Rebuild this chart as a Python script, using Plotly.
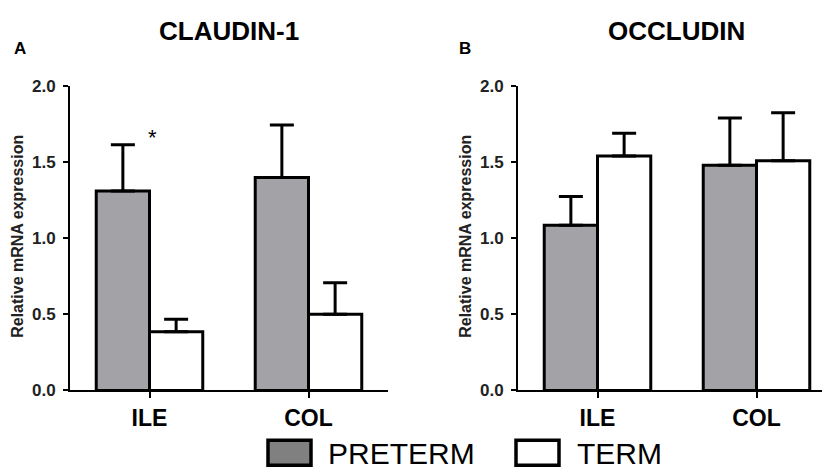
import plotly.graph_objects as go

W, H = 830, 474

categories = ["ILE", "COL"]
tick_vals = [0.0, 0.5, 1.0, 1.5, 2.0]

claudin_preterm = [1.31, 1.40]
claudin_preterm_err = [0.305, 0.345]
claudin_term = [0.385, 0.50]
claudin_term_err = [0.082, 0.208]

occludin_preterm = [1.085, 1.48]
occludin_preterm_err = [0.19, 0.31]
occludin_term = [1.54, 1.51]
occludin_term_err = [0.15, 0.315]

groups = ["PRETERM", "TERM"]

FONT = "Arial, Liberation Sans, sans-serif"
BAR_GRAY = "#a3a2a7"
LEGEND_GRAY = "#808080"


def px_x(v):
    return v / W


def px_y(v):
    return 1 - v / H


def bar_trace(vals, errs, fill, xa, ya, name):
    return go.Bar(
        x=categories,
        y=vals,
        name=name,
        marker=dict(color=fill, line=dict(color="black", width=3)),
        error_y=dict(
            type="data",
            array=errs,
            arrayminus=[0] * len(errs),
            symmetric=False,
            color="black",
            thickness=3,
            width=12,
        ),
        xaxis=xa,
        yaxis=ya,
        showlegend=False,
    )


fig = go.Figure()
fig.add_trace(bar_trace(claudin_preterm, claudin_preterm_err, BAR_GRAY, "x", "y", groups[0]))
fig.add_trace(bar_trace(claudin_term, claudin_term_err, "white", "x", "y", groups[1]))
fig.add_trace(bar_trace(occludin_preterm, occludin_preterm_err, BAR_GRAY, "x2", "y2", groups[0]))
fig.add_trace(bar_trace(occludin_term, occludin_term_err, "white", "x2", "y2", groups[1]))

y_dom = [px_y(389), px_y(72)]
xaxis_common = dict(
    showline=True, linecolor="black", linewidth=2,
    ticks="outside", ticklen=6, tickwidth=2, tickcolor="black",
    tickfont=dict(family=FONT, size=23, color="black", weight="bold"),
    range=[-0.5, 1.5], showgrid=False, zeroline=False, fixedrange=True,
)
yaxis_common = dict(
    showline=True, linecolor="black", linewidth=2,
    ticks="outside", ticklen=5, tickwidth=2, tickcolor="black",
    tickvals=tick_vals, tickformat=".1f", ticklabelstandoff=4,
    tickfont=dict(family=FONT, size=17, color="#222222", weight="bold"),
    range=[0, 2.0], showgrid=False, zeroline=False, domain=y_dom,
)

fig.update_layout(
    width=W, height=H,
    margin=dict(l=0, r=0, t=0, b=0),
    paper_bgcolor="white", plot_bgcolor="white",
    barmode="group", bargap=0.33, bargroupgap=0,
    font=dict(family=FONT, color="black"),
    xaxis=dict(domain=[px_x(62), px_x(380)], anchor="y", **xaxis_common),
    yaxis=dict(anchor="x", **yaxis_common),
    xaxis2=dict(domain=[px_x(510), px_x(828)], anchor="y2", **xaxis_common),
    yaxis2=dict(anchor="x2", **yaxis_common),
)

annotations = [
    dict(text="<b>CLAUDIN-1</b>", x=px_x(221), y=px_y(15), size=26),
    dict(text="<b>OCCLUDIN</b>", x=px_x(668), y=px_y(15), size=26),
    dict(text="<b>A</b>", x=px_x(12), y=px_y(33), size=17),
    dict(text="<b>B</b>", x=px_x(457), y=px_y(33), size=17),
    dict(text="PRETERM", x=px_x(318), y=px_y(455), size=30, xanchor="left"),
    dict(text="TERM", x=px_x(567), y=px_y(455), size=30, xanchor="left"),
]
for a in annotations:
    fig.add_annotation(
        text=a["text"], x=a["x"], y=a["y"], xref="paper", yref="paper",
        xanchor=a.get("xanchor", "center"), yanchor="middle", showarrow=False,
        font=dict(family=FONT, size=a["size"], color="black"),
    )

for cx in (10, 458):
    fig.add_annotation(
        text="<b>Relative mRNA expression</b>", x=px_x(cx), y=px_y(229),
        xref="paper", yref="paper", textangle=-90, showarrow=False,
        xanchor="center", yanchor="middle",
        font=dict(family=FONT, size=16, color="#222222"),
    )

# significance marker above the ILE pair
fig.add_annotation(
    text="*", x="ILE", y=1.66, xref="x", yref="y", xshift=3, showarrow=False,
    yanchor="middle", font=dict(family=FONT, size=22, color="black"),
)

# legend boxes
for x0, fill in ((260, LEGEND_GRAY), (508, "white")):
    fig.add_shape(
        type="rect", xref="paper", yref="paper",
        x0=px_x(x0), x1=px_x(x0 + 43), y0=px_y(467), y1=px_y(441),
        fillcolor=fill, line=dict(color="black", width=3.5),
    )

fig.write_html("out.html")
